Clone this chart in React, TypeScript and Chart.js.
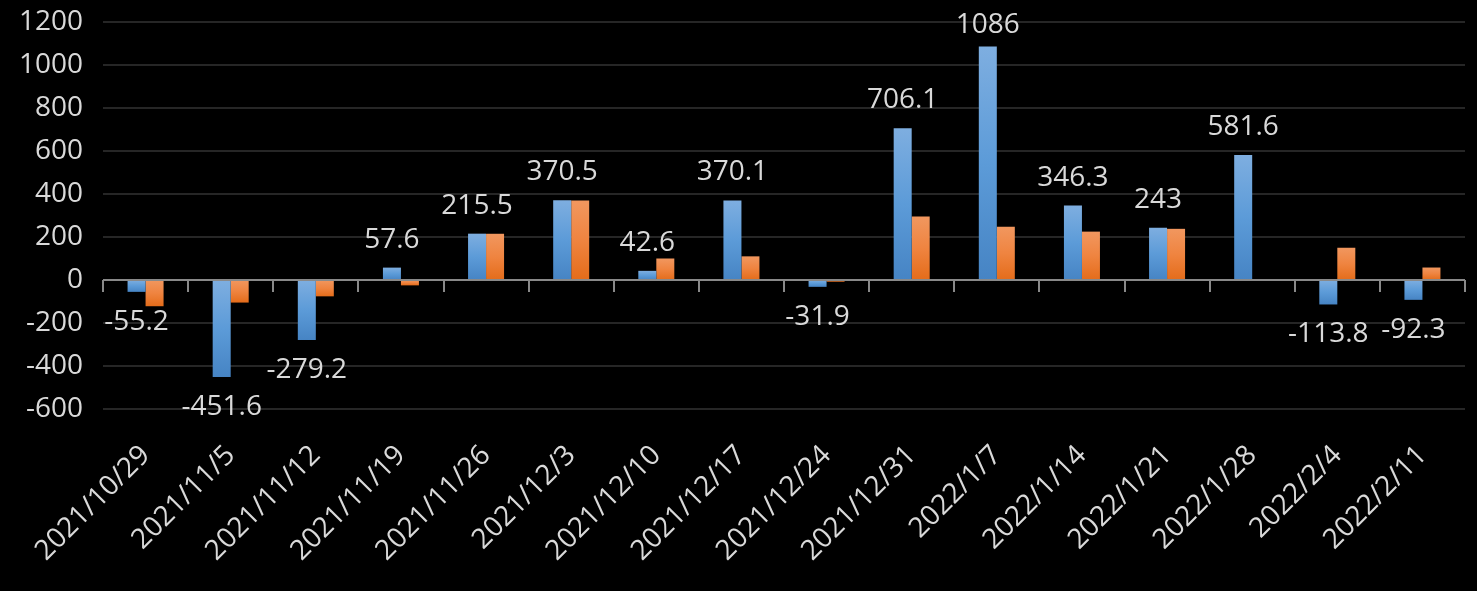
import React, { useEffect, useRef } from "react";
import { Chart, registerables } from "chart.js";

Chart.register(...registerables);

const categories = [
  "2021/10/29", "2021/11/5", "2021/11/12", "2021/11/19", "2021/11/26", "2021/12/3",
  "2021/12/10", "2021/12/17", "2021/12/24", "2021/12/31", "2022/1/7", "2022/1/14",
  "2022/1/21", "2022/1/28", "2022/2/4", "2022/2/11",
];
const seriesBlue = [-55.2, -451.6, -279.2, 57.6, 215.5, 370.5, 42.6, 370.1, -31.9, 706.1, 1086, 346.3, 243, 581.6, -113.8, -92.3];
const seriesOrange = [-122, -105, -76, -25, 215, 370, 100, 110, -8, 295, 248, 225, 238, 0, 150, 58];
const yMin = -600;
const yMax = 1200;
const yStep = 200;

const FONT = "'Open Sans', 'Noto Sans', sans-serif";
const TEXT = "#d9d9d9";
const FSIZE = 28;

function barGradient(top: string, mid: string, bottom: string) {
  return (ctx: any) => {
    const chart = ctx.chart;
    const y = chart.scales && chart.scales.y;
    const v = ctx.raw as number;
    if (!y || v == null) return bottom;
    const y0 = y.getPixelForValue(Math.max(v, 0));
    const y1 = y.getPixelForValue(Math.min(v, 0));
    if (!isFinite(y0) || !isFinite(y1) || Math.abs(y1 - y0) < 1) return bottom;
    const g = chart.ctx.createLinearGradient(0, y0, 0, y1);
    g.addColorStop(0, top);
    g.addColorStop(0.5, mid);
    g.addColorStop(1, bottom);
    return g;
  };
}

function zeroPad(s: any) {
  s.paddingTop = 0;
  s.paddingBottom = 0;
  s.paddingLeft = 0;
  s.paddingRight = 0;
}

const extrasPlugin = {
  id: "extras",
  afterDatasetsDraw(chart: any) {
    const ctx = chart.ctx;
    const xs = chart.scales.x;
    const ys = chart.scales.y;
    const zeroY = ys.getPixelForValue(0);
    ctx.save();
    ctx.strokeStyle = "#898989";
    ctx.lineWidth = 2;
    const n = categories.length;
    ctx.beginPath();
    for (let i = 0; i <= n; i++) {
      const x = Math.round(xs.left + ((xs.right - xs.left) * i) / n);
      ctx.moveTo(x, zeroY);
      ctx.lineTo(x, zeroY + 12);
    }
    ctx.stroke();
    const meta = chart.getDatasetMeta(0);
    ctx.fillStyle = TEXT;
    ctx.font = `${FSIZE}px ${FONT}`;
    ctx.textAlign = "center";
    ctx.textBaseline = "alphabetic";
    const minBaseline = chart.chartArea.top + 11;
    meta.data.forEach((el: any, i: number) => {
      const v = seriesBlue[i];
      const txt = String(v);
      if (v >= 0) {
        ctx.fillText(txt, el.x, Math.max(el.y - 20, minBaseline));
      } else {
        ctx.fillText(txt, el.x, el.y + 38);
      }
    });
    ctx.restore();
  },
};

export default function App() {
  const ref = useRef<HTMLCanvasElement | null>(null);
  useEffect(() => {
    document.body.style.margin = "0";
    document.body.style.background = "#000";
    const canvas = ref.current;
    if (!canvas) return;
    const chart = new Chart(canvas, {
      type: "bar",
      data: {
        labels: categories,
        datasets: [
          {
            label: "A",
            data: seriesBlue,
            backgroundColor: barGradient("#7eaee0", "#5c9bd8", "#4684c4"),
            borderWidth: 0,
            categoryPercentage: 0.423,
            barPercentage: 1,
          },
          {
            label: "B",
            data: seriesOrange,
            backgroundColor: barGradient("#f1975f", "#ef8440", "#e46c1a"),
            borderWidth: 0,
            categoryPercentage: 0.423,
            barPercentage: 1,
          },
        ],
      },
      options: {
        responsive: false,
        animation: false,
        devicePixelRatio: 1,
        layout: { autoPadding: false, padding: { top: 22, right: 12, bottom: 0, left: 0 } },
        plugins: {
          legend: { display: false },
          tooltip: { enabled: false },
        },
        scales: {
          x: {
            grid: { display: false, drawTicks: false },
            border: { display: false },
            ticks: {
              color: TEXT,
              font: { family: FONT, size: FSIZE },
              minRotation: 45,
              maxRotation: 45,
              autoSkip: false,
              padding: 30,
            },
            afterFit: (s: any) => {
              s.height = 182;
              zeroPad(s);
            },
          },
          y: {
            min: yMin,
            max: yMax,
            ticks: {
              stepSize: yStep,
              color: TEXT,
              font: { family: FONT, size: FSIZE },
              padding: 20,
              callback: (v: any) => String(v),
            },
            grid: {
              drawTicks: false,
              color: (c: any) => (c.tick && c.tick.value === 0 ? "#898989" : "#262626"),
              lineWidth: 2,
            },
            border: { display: false },
            afterFit: (s: any) => {
              s.width = 103;
              zeroPad(s);
            },
          },
        },
      },
      plugins: [extrasPlugin],
    });
    return () => chart.destroy();
  }, []);
  return (
    <div style={{ width: 1477, height: 591, background: "#000" }}>
      <canvas ref={ref} width={1477} height={591} style={{ display: "block" }} />
    </div>
  );
}
